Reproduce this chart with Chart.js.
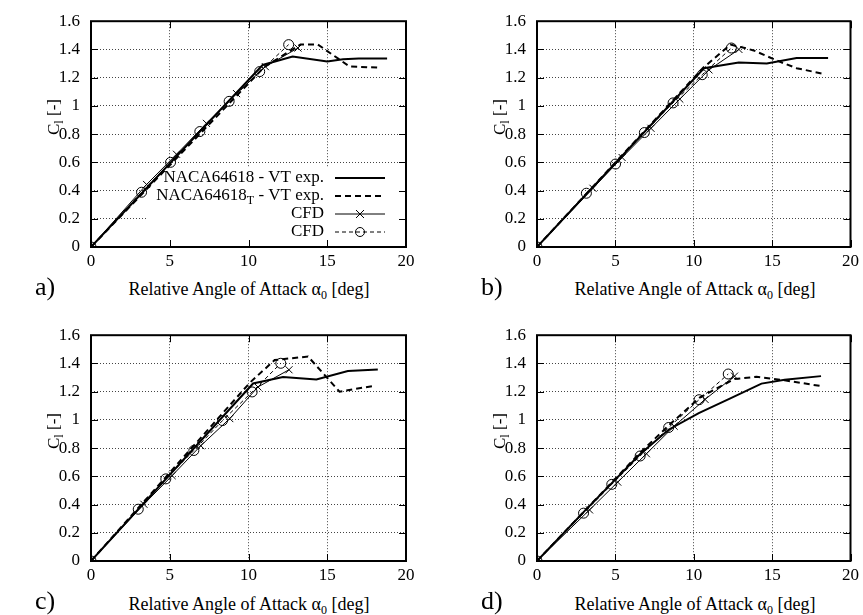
<!DOCTYPE html>
<html>
<head>
<meta charset="utf-8">
<script src="https://cdn.jsdelivr.net/npm/chart.js@4.4.1/dist/chart.umd.min.js"></script>
<style>
  body { margin:0; background:#fff; width:863px; height:615px; position:relative; overflow:hidden;
         font-family:"Liberation Serif", "Times New Roman", Times, "DejaVu Serif", serif; color:#000; }
  canvas { position:absolute; }
  .xt { position:absolute; width:320px; text-align:center; font-size:18px; line-height:20px; white-space:nowrap; }
  .yt { position:absolute; width:100px; text-align:center; font-size:17px; line-height:20px; transform:rotate(-90deg); white-space:nowrap; }
  .pl { position:absolute; font-size:26px; line-height:30px; }
  sub { font-size:12px; vertical-align:-4px; line-height:0; }
</style>
</head>
<body>
<canvas id="ca" width="430" height="272" style="left:0;top:0"></canvas>
<canvas id="cb" width="417" height="272" style="left:446px;top:0"></canvas>
<canvas id="cc" width="430" height="272" style="left:0;top:314px"></canvas>
<canvas id="cd" width="417" height="272" style="left:446px;top:314px"></canvas>

<div class="xt" style="left:89px;top:279px">Relative Angle of Attack α<sub>0</sub> [deg]</div>
<div class="xt" style="left:535px;top:279px">Relative Angle of Attack α<sub>0</sub> [deg]</div>
<div class="xt" style="left:89px;top:594px">Relative Angle of Attack α<sub>0</sub> [deg]</div>
<div class="xt" style="left:535px;top:594px">Relative Angle of Attack α<sub>0</sub> [deg]</div>

<div class="yt" style="left:4px;top:107px">C<sub>l</sub> [-]</div>
<div class="yt" style="left:450px;top:107px">C<sub>l</sub> [-]</div>
<div class="yt" style="left:4px;top:421px">C<sub>l</sub> [-]</div>
<div class="yt" style="left:450px;top:421px">C<sub>l</sub> [-]</div>

<div class="pl" style="left:35px;top:272px">a)</div>
<div class="pl" style="left:481px;top:272px">b)</div>
<div class="pl" style="left:35px;top:586px">c)</div>
<div class="pl" style="left:481px;top:586px">d)</div>

<script>
// axis ticks
const xTicks = [0, 5, 10, 15, 20];
const yTicks = [0, 0.2, 0.4, 0.6, 0.8, 1, 1.2, 1.4, 1.6];

// legend labels
const legendLabels = ['NACA64618 - VT exp.', 'NACA64618_T - VT exp.', 'CFD', 'CFD'];

// a)
const aExpX  = [0, 10.9, 12.8, 15.0, 16.0, 17.0, 18.8];
const aExpY  = [0, 1.29, 1.35, 1.315, 1.33, 1.335, 1.335];
const aExpTX = [0, 11.0, 13.3, 14.4, 16.4, 18.4];
const aExpTY = [0, 1.275, 1.435, 1.435, 1.28, 1.27];
const aCfdX  = [0, 3.53, 5.43, 7.33, 9.24, 11.07, 13.14];
const aCfdY  = [0, 0.443, 0.657, 0.876, 1.087, 1.278, 1.41];
const aCfdTX = [0, 3.21, 5.05, 6.91, 8.77, 10.71, 12.55];
const aCfdTY = [0, 0.388, 0.60, 0.818, 1.032, 1.243, 1.434];

// b)
const bExpX  = [0, 10.65, 12.87, 14.66, 16.56, 18.57];
const bExpY  = [0, 1.267, 1.308, 1.301, 1.34, 1.34];
const bExpTX = [0, 10.6, 12.34, 13.19, 13.82, 15.51, 16.56, 18.36];
const bExpTY = [0, 1.27, 1.434, 1.412, 1.393, 1.312, 1.267, 1.225];
const bCfdX  = [0, 3.57, 5.43, 7.27, 9.11, 10.97, 12.88];
const bCfdY  = [0, 0.416, 0.634, 0.841, 1.048, 1.255, 1.40];
const bCfdTX = [0, 3.15, 5.01, 6.85, 8.68, 10.54, 12.4];
const bCfdTY = [0, 0.381, 0.588, 0.811, 1.021, 1.221, 1.41];

// c)
const cExpX  = [0, 10.29, 12.19, 14.31, 16.31, 18.21];
const cExpY  = [0, 1.258, 1.304, 1.286, 1.346, 1.357];
const cExpTX = [0, 10.1, 11.66, 13.78, 15.78, 17.9];
const cExpTY = [0, 1.265, 1.424, 1.449, 1.2, 1.24];
const cCfdX  = [0, 3.36, 5.15, 6.97, 8.81, 10.6, 12.57];
const cCfdY  = [0, 0.402, 0.605, 0.817, 1.009, 1.233, 1.355];
const cCfdTX = [0, 3.0, 4.75, 6.53, 8.35, 10.23, 12.05];
const cCfdTY = [0, 0.367, 0.582, 0.783, 0.995, 1.198, 1.401];

// d)
const dExpX  = [0, 3.0, 6.6, 8.42, 10.32, 12.3, 14.32, 15.8, 18.12];
const dExpY  = [0, 0.35, 0.76, 0.932, 1.048, 1.15, 1.257, 1.285, 1.31];
const dExpTX = [0, 3.0, 4.8, 6.6, 8.5, 10.4, 12.6, 14.0, 15.8, 18.1];
const dExpTY = [0, 0.35, 0.56, 0.77, 0.97, 1.16, 1.29, 1.305, 1.28, 1.24];
const dCfdX  = [0, 3.35, 5.15, 6.98, 8.75, 10.72, 12.6];
const dCfdY  = [0, 0.362, 0.559, 0.76, 0.955, 1.145, 1.31];
const dCfdTX = [0, 2.97, 4.77, 6.58, 8.4, 10.34, 12.2];
const dCfdTY = [0, 0.339, 0.543, 0.744, 0.946, 1.143, 1.325];

const FONT = '"Liberation Serif", "Times New Roman", Times, "DejaVu Serif", serif';
const pts = (xs, ys) => xs.map((x, i) => ({ x, y: ys[i] }));

// frame with inward ticks on all four sides (gnuplot style)
const framePlugin = {
  id: 'frame',
  afterDraw(chart) {
    const { ctx, chartArea: a, scales: { x, y } } = chart;
    const tl = 7;
    ctx.save();
    ctx.strokeStyle = '#000';
    ctx.lineWidth = 1;
    ctx.beginPath();
    xTicks.forEach(v => {
      const p = Math.round(x.getPixelForValue(v)) + 0.5;
      ctx.moveTo(p, a.bottom); ctx.lineTo(p, a.bottom - tl);
      ctx.moveTo(p, a.top); ctx.lineTo(p, a.top + tl);
    });
    yTicks.forEach(v => {
      const p = Math.round(y.getPixelForValue(v)) + 0.5;
      ctx.moveTo(a.left, p); ctx.lineTo(a.left + tl, p);
      ctx.moveTo(a.right, p); ctx.lineTo(a.right - tl, p);
    });
    ctx.stroke();
    ctx.lineWidth = 2;
    ctx.strokeRect(a.left, a.top, a.right - a.left, a.bottom - a.top);
    ctx.restore();
  }
};

function drawCross(ctx, x, y, r) {
  ctx.beginPath();
  ctx.moveTo(x - r, y - r); ctx.lineTo(x + r, y + r);
  ctx.moveTo(x - r, y + r); ctx.lineTo(x + r, y - r);
  ctx.stroke();
}

// key box in the lower right of panel a)
const keyPlugin = {
  id: 'key',
  beforeDatasetsDraw(chart, args, opts) {
    if (!opts.show) return;
    const { ctx, chartArea: a } = chart;
    ctx.save();
    ctx.fillStyle = '#fff';
    ctx.fillRect(a.right - 258, a.bottom - 80, 258, 80);
    ctx.restore();
  },
  afterDatasetsDraw(chart, args, opts) {
    if (!opts.show) return;
    const { ctx, chartArea: a } = chart;
    const rows = [a.bottom - 69, a.bottom - 51, a.bottom - 33, a.bottom - 15];
    const tx = a.right - 82, s0 = a.right - 71, s1 = a.right - 21, sm = (s0 + s1) / 2;
    const styles = [
      { w: 2, dash: [] }, { w: 2, dash: [6, 4] }, { w: 1, dash: [], m: 'x' }, { w: 1, dash: [4, 3], m: 'o' }
    ];
    ctx.save();
    ctx.fillStyle = '#000';
    ctx.strokeStyle = '#000';
    ctx.textBaseline = 'middle';
    legendLabels.forEach((lab, i) => {
      const yy = rows[i];
      const parts = lab.split('_');
      ctx.font = '17px ' + FONT;
      if (parts.length === 1) {
        ctx.textAlign = 'right';
        ctx.fillText(lab, tx, yy);
      } else {
        const base = parts[0];
        const sub = parts[1].charAt(0);
        const rest = parts[1].slice(1);
        ctx.textAlign = 'left';
        const wb = ctx.measureText(base).width;
        const wr = ctx.measureText(rest).width;
        ctx.font = '12px ' + FONT;
        const ws = ctx.measureText(sub).width;
        let x0 = tx - wb - ws - wr;
        ctx.font = '17px ' + FONT;
        ctx.fillText(base, x0, yy);
        ctx.font = '12px ' + FONT;
        ctx.fillText(sub, x0 + wb, yy + 5);
        ctx.font = '17px ' + FONT;
        ctx.fillText(rest, x0 + wb + ws, yy);
      }
      const st = styles[i];
      ctx.lineWidth = st.w;
      ctx.setLineDash(st.dash);
      ctx.beginPath();
      ctx.moveTo(s0, yy); ctx.lineTo(s1, yy);
      ctx.stroke();
      ctx.setLineDash([]);
      if (st.m === 'x') drawCross(ctx, sm, yy, 4);
      if (st.m === 'o') { ctx.beginPath(); ctx.arc(sm, yy, 4.5, 0, Math.PI * 2); ctx.stroke(); }
    });
    ctx.restore();
  }
};

function makePanel(id, padRight, expX, expY, expTX, expTY, cfdX, cfdY, cfdTX, cfdTY, showKey) {
  const el = document.getElementById(id);
  return new Chart(el.getContext('2d'), {
    type: 'line',
    data: {
      datasets: [{
        label: legendLabels[0],
        data: pts(expX, expY),
        borderColor: '#000', borderWidth: 2, pointRadius: 0, tension: 0
      }, {
        label: legendLabels[1],
        data: pts(expTX, expTY),
        borderColor: '#000', borderWidth: 2, borderDash: [6, 4], pointRadius: 0, tension: 0
      }, {
        label: legendLabels[2],
        data: pts(cfdX, cfdY),
        borderColor: '#000', borderWidth: 1, pointStyle: 'crossRot', pointRadius: 5,
        pointBorderWidth: 1, pointBorderColor: '#000', tension: 0
      }, {
        label: legendLabels[3],
        data: pts(cfdTX, cfdTY),
        borderColor: '#000', borderWidth: 1, borderDash: [4, 3], pointStyle: 'circle', pointRadius: 5,
        pointBorderWidth: 1, pointBorderColor: '#000', pointBackgroundColor: 'rgba(0,0,0,0)', tension: 0
      }]
    },
    options: {
      responsive: false,
      animation: false,
      devicePixelRatio: 1,
      layout: { padding: { top: 15, right: padRight, left: 0, bottom: 0 } },
      plugins: {
        legend: { display: false },
        tooltip: { enabled: false },
        key: { show: showKey }
      },
      scales: {
        x: {
          type: 'linear', min: 0, max: 20,
          afterBuildTicks: s => { s.ticks = xTicks.map(v => ({ value: v })); },
          afterFit: s => { s.height = 25; },
          grid: { color: '#444', lineWidth: 1, drawTicks: false },
          border: { display: false, dash: [1, 2] },
          ticks: { color: '#000', font: { family: FONT, size: 17 }, padding: 4, maxRotation: 0,
                   callback: v => String(v) }
        },
        y: {
          type: 'linear', min: 0, max: 1.6,
          afterBuildTicks: s => { s.ticks = yTicks.map(v => ({ value: v })); },
          afterFit: s => { s.width = 91; },
          grid: { color: '#444', lineWidth: 1, drawTicks: false },
          border: { display: false, dash: [1, 2] },
          ticks: { color: '#000', font: { family: FONT, size: 17 }, padding: 11,
                   callback: v => String(+v.toFixed(1)) }
        }
      }
    },
    plugins: [keyPlugin, framePlugin]
  });
}

makePanel('ca', 24, aExpX, aExpY, aExpTX, aExpTY, aCfdX, aCfdY, aCfdTX, aCfdTY, true);
makePanel('cb', 10, bExpX, bExpY, bExpTX, bExpTY, bCfdX, bCfdY, bCfdTX, bCfdTY, false);
makePanel('cc', 24, cExpX, cExpY, cExpTX, cExpTY, cCfdX, cCfdY, cCfdTX, cCfdTY, false);
makePanel('cd', 10, dExpX, dExpY, dExpTX, dExpTY, dCfdX, dCfdY, dCfdTX, dCfdTY, false);
</script>
</body>
</html>
